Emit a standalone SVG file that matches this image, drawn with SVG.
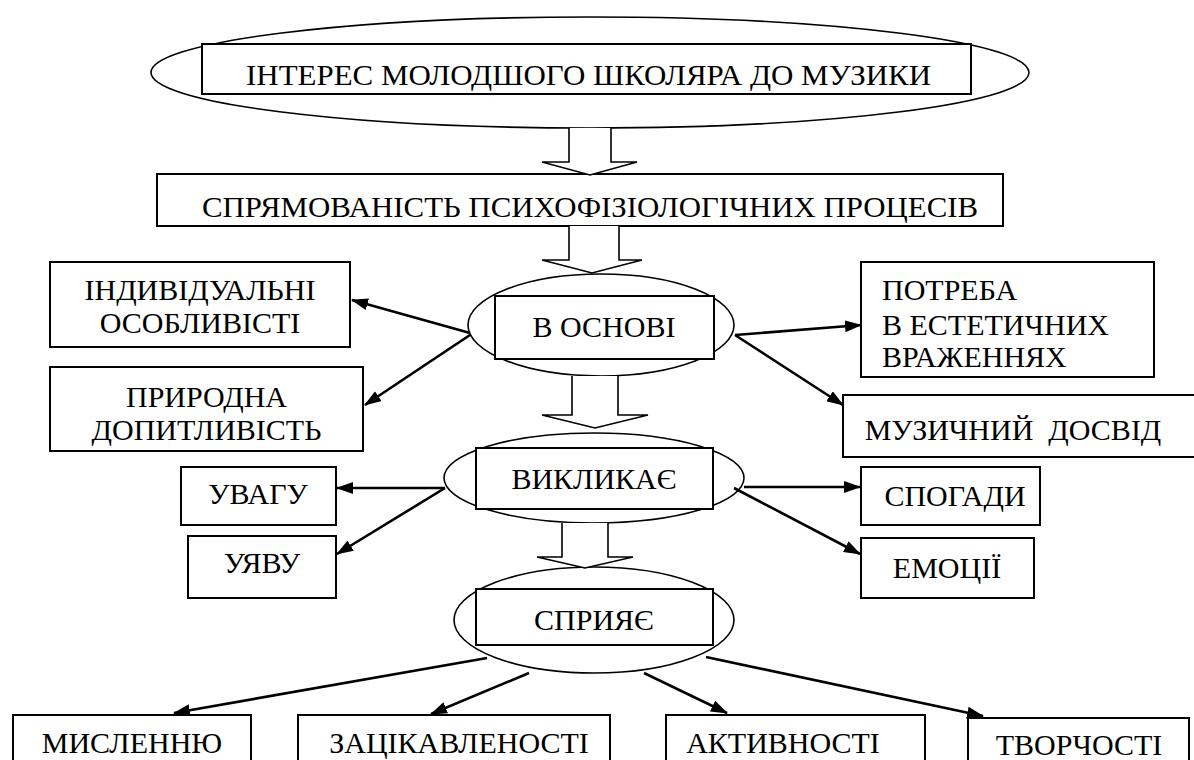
<svg xmlns="http://www.w3.org/2000/svg" width="1194" height="760" viewBox="0 0 1194 760">
<style>
text{font-family:'Liberation Serif','Times New Roman',serif;font-size:30px;fill:#000}
.m{text-anchor:middle}
.box{fill:#fff;stroke:#000;stroke-width:2}
.ell{fill:#fff;stroke:#000;stroke-width:1.6}
.blk{fill:#fff;stroke:#000;stroke-width:1.6}
.ln{stroke:#000;stroke-width:2.6;fill:none;marker-end:url(#ah)}
</style>
<defs>
<marker id="ah" markerUnits="userSpaceOnUse" markerWidth="18" markerHeight="12" refX="16" refY="6" orient="auto">
<path d="M0,0 L17,6 L0,12 z" fill="#000"/>
</marker>
</defs>
<rect width="1194" height="760" fill="#fff"/>

<g id="n-interest">
<ellipse class="ell" cx="590" cy="72.5" rx="439" ry="55.5"/>
<rect class="box" x="202" y="44" width="769" height="50"/>
<text x="246" y="85" font-size="34" textLength="685" lengthAdjust="spacingAndGlyphs">ІНТЕРЕС МОЛОДШОГО ШКОЛЯРА ДО МУЗИКИ</text>
</g>

<g id="n-spryam">
<rect class="box" x="157" y="174" width="846" height="52"/>
<text x="202" y="217" font-size="31" textLength="776" lengthAdjust="spacingAndGlyphs">СПРЯМОВАНІСТЬ ПСИХОФІЗІОЛОГІЧНИХ ПРОЦЕСІВ</text>
</g>

<g id="n-osnovi">
<ellipse class="ell" cx="601" cy="325" rx="133" ry="51"/>
<rect class="box" x="495" y="296" width="219" height="63"/>
<text class="m" x="604" y="337">В ОСНОВІ</text>
</g>

<g id="n-vyklykaie">
<ellipse class="ell" cx="594" cy="478" rx="150" ry="45"/>
<rect class="box" x="476" y="448" width="237" height="61"/>
<text class="m" x="594" y="489">ВИКЛИКАЄ</text>
</g>

<g id="n-spryiaie">
<ellipse class="ell" cx="594" cy="620" rx="140" ry="53"/>
<rect class="box" x="476" y="589" width="237" height="56"/>
<text class="m" x="594" y="630">СПРИЯЄ</text>
</g>

<g id="connectors">
<path class="blk" d="M569,128 V162 H542 L590,175 L637,162 H611 V128"/>
<path class="blk" d="M569,226 V260 H542 L592,273 L642,260 H619 V226"/>
<path class="blk" d="M572,376 V415 H542 L595,428 L648,415 H618 V376"/>
<path class="blk" d="M562,523 V557 H537 L585,568 L633,557 H608 V523"/>
<line class="ln" x1="470" y1="333" x2="352" y2="300"/>
<line class="ln" x1="470" y1="335" x2="365" y2="405"/>
<line class="ln" x1="735" y1="335" x2="861" y2="325"/>
<line class="ln" x1="735" y1="335" x2="843" y2="405"/>
<line class="ln" x1="445" y1="488" x2="337" y2="488"/>
<line class="ln" x1="445" y1="488" x2="337" y2="554"/>
<line class="ln" x1="744" y1="487" x2="860" y2="487"/>
<line class="ln" x1="734" y1="488" x2="860" y2="554"/>
<line class="ln" x1="487" y1="658" x2="174" y2="713"/>
<line class="ln" x1="529" y1="673" x2="431" y2="714"/>
<line class="ln" x1="644" y1="673" x2="727" y2="713"/>
<line class="ln" x1="706" y1="657" x2="983" y2="716"/>
</g>

<g id="n-indyv">
<rect class="box" x="50" y="262" width="300" height="85"/>
<text class="m" x="200" y="300">ІНДИВІДУАЛЬНІ</text>
<text class="m" x="200" y="333">ОСОБЛИВІСТІ</text>
</g>
<g id="n-pryrodna">
<rect class="box" x="50" y="367" width="313" height="84"/>
<text class="m" x="206.5" y="407">ПРИРОДНА</text>
<text class="m" x="206.5" y="440">ДОПИТЛИВІСТЬ</text>
</g>
<g id="n-uvagu">
<rect class="box" x="181" y="467" width="155" height="58"/>
<text class="m" x="258" y="504">УВАГУ</text>
</g>
<g id="n-uiavu">
<rect class="box" x="188" y="536" width="148" height="62"/>
<text class="m" x="262" y="573">УЯВУ</text>
</g>

<g id="n-potreba">
<rect class="box" x="861" y="262" width="293" height="115"/>
<text x="882" y="300">ПОТРЕБА</text>
<text x="882" y="335">В ЕСТЕТИЧНИХ</text>
<text x="882" y="367">ВРАЖЕННЯХ</text>
</g>
<g id="n-dosvid">
<rect class="box" x="843" y="395" width="360" height="62"/>
<text class="m" x="1013" y="440" xml:space="preserve">МУЗИЧНИЙ  ДОСВІД</text>
</g>
<g id="n-spogady">
<rect class="box" x="861" y="467" width="179" height="58"/>
<text class="m" x="955" y="506">СПОГАДИ</text>
</g>
<g id="n-emotsii">
<rect class="box" x="861" y="538" width="173" height="60"/>
<text class="m" x="947" y="578">ЕМОЦІЇ</text>
</g>

<g id="n-myslenniu">
<rect class="box" x="13" y="715" width="238" height="60"/>
<text class="m" x="132" y="753">МИСЛЕННЮ</text>
</g>
<g id="n-zatsikavlenosti">
<rect class="box" x="298" y="715" width="312" height="60"/>
<text class="m" x="459" y="753">ЗАЦІКАВЛЕНОСТІ</text>
</g>
<g id="n-aktyvnosti">
<rect class="box" x="666" y="715" width="259" height="60"/>
<text class="m" x="783" y="753">АКТИВНОСТІ</text>
</g>
<g id="n-tvorchosti">
<rect class="box" x="968" y="718" width="221" height="60"/>
<text class="m" x="1079" y="755">ТВОРЧОСТІ</text>
</g>
</svg>
